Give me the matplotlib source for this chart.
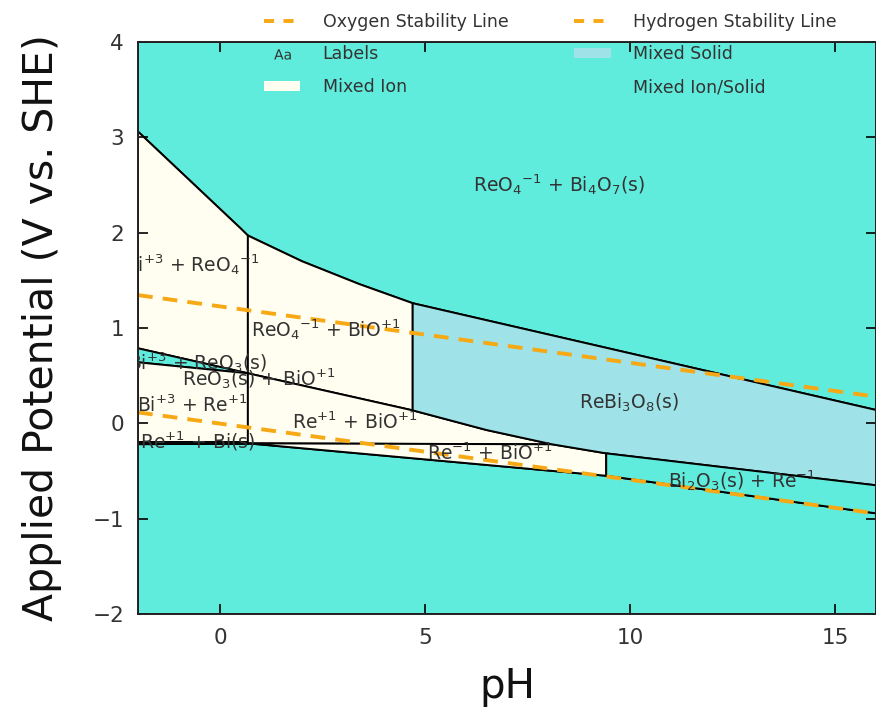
import matplotlib
matplotlib.use('Agg')
import matplotlib.pyplot as plt
from matplotlib.patches import Polygon, Patch
from matplotlib.lines import Line2D

plt.rcParams['font.family'] = ['DejaVu Sans']
plt.rcParams['mathtext.default'] = 'regular'

# colours
ION_SOLID = '#60ECDC'
ION = '#FFFEF0'
SOLID = '#9FE3E8'
WATER = '#F7A815'
INK = '#333333'

# region outlines (pH, V vs SHE)
bi4o7_ph = [-2, 0.49, 0.68, 2.0, 3.4, 4.7, 16, 16, -2]
bi4o7_v = [3.06, 2.05, 1.97, 1.70, 1.46, 1.26, 0.14, 4, 4]

bi_reo4_ph = [-2, 0.49, 0.68, 0.68, -2]
bi_reo4_v = [3.06, 2.05, 1.97, 0.525, 0.787]

bi_reo3_ph = [-2, 0.68, -2]
bi_reo3_v = [0.787, 0.525, 0.64]

bi_re_ph = [-2, 0.68, 0.68, -2]
bi_re_v = [0.64, 0.525, -0.20, -0.20]

re_bis_ph = [-2, 0.68, 0.68, -2]
re_bis_v = [-0.20, -0.20, -0.22, -0.22]

reo4_bio_ph = [0.68, 2.0, 3.4, 4.7, 4.7, 0.68]
reo4_bio_v = [1.97, 1.70, 1.46, 1.26, 0.136, 0.525]

re_bio_ph = [0.68, 4.7, 6.5, 8.1, 0.68]
re_bio_v = [0.525, 0.136, -0.07, -0.22, -0.21]

rem_bio_ph = [0.68, 8.1, 9.42, 9.42]
rem_bio_v = [-0.21, -0.22, -0.315, -0.55]

rebi3o8_ph = [4.7, 16, 16, 9.42, 8.1, 6.5, 4.7]
rebi3o8_v = [1.26, 0.14, -0.65, -0.315, -0.22, -0.07, 0.136]

bi2o3_ph = [9.42, 16, 16, 9.42]
bi2o3_v = [-0.315, -0.65, -0.944, -0.55]

bottom_ph = [-2, 0.68, 9.42, 16, 16, -2]
bottom_v = [-0.22, -0.21, -0.55, -0.944, -2, -2]

# water stability lines
water_ph = [-2, 16]
o2_v = [1.345, 0.28]
h2_v = [0.115, -0.945]

# region labels
label_text = [
    'ReO$_4$$^{-1}$ + Bi$_4$O$_7$(s)',
    'Bi$^{+3}$ + ReO$_4$$^{-1}$',
    'ReO$_4$$^{-1}$ + BiO$^{+1}$',
    'Bi$^{+3}$ + ReO$_3$(s)',
    'ReO$_3$(s) + BiO$^{+1}$',
    'Bi$^{+3}$ + Re$^{+1}$',
    'Re$^{+1}$ + BiO$^{+1}$',
    'Re$^{+1}$ + Bi(s)',
    'Re$^{-1}$ + BiO$^{+1}$',
    'ReBi$_3$O$_8$(s)',
    'Bi$_2$O$_3$(s) + Re$^{-1}$',
]
label_ph = [8.27, -0.68, 2.58, -0.56, 0.95, -0.68, 3.28, -0.54, 6.57, 9.98, 12.72]
label_v = [2.50, 1.66, 0.98, 0.64, 0.47, 0.19, 0.01, -0.19, -0.31, 0.22, -0.60]

regions = [
    (bi4o7_ph, bi4o7_v, ION_SOLID),
    (bottom_ph, bottom_v, ION_SOLID),
    (bi_reo4_ph, bi_reo4_v, ION),
    (bi_reo3_ph, bi_reo3_v, ION_SOLID),
    (bi_re_ph, bi_re_v, ION),
    (re_bis_ph, re_bis_v, ION_SOLID),
    (reo4_bio_ph, reo4_bio_v, ION),
    (re_bio_ph, re_bio_v, ION),
    (rem_bio_ph, rem_bio_v, ION),
    (rebi3o8_ph, rebi3o8_v, SOLID),
    (bi2o3_ph, bi2o3_v, ION_SOLID),
]

fig = plt.figure(figsize=(8.76, 7.15), dpi=100)
ax = fig.add_axes([138 / 876, 1 - 614 / 715, 738 / 876, 572 / 715])
ax.set_facecolor(ION_SOLID)

for ph, v, col in regions:
    ax.add_patch(Polygon(list(zip(ph, v)), closed=True, facecolor=col,
                         edgecolor='black', linewidth=1.4, zorder=1))

ax.plot(water_ph, o2_v, color=WATER, lw=2.8, dashes=(3.8, 2.6), zorder=2)
ax.plot(water_ph, h2_v, color=WATER, lw=2.8, dashes=(3.8, 2.6), zorder=2)

for t, x, y in zip(label_text, label_ph, label_v):
    ax.text(x, y, t, ha='center', va='center', fontsize=13.5, color=INK,
            clip_on=True, zorder=3)

ax.set_xlim(-2, 16)
ax.set_ylim(-2, 4)
ax.set_xticks([0, 5, 10, 15])
ax.set_yticks([-2, -1, 0, 1, 2, 3, 4])
ax.set_yticklabels(['\u22122', '\u22121', '0', '1', '2', '3', '4'])
ax.tick_params(direction='in', length=7, width=1.2, top=True, right=True,
               labelsize=15.5, labelcolor=INK, pad=10)
for s in ax.spines.values():
    s.set_linewidth(1.4)
    s.set_color('#222222')

ax.set_xlabel('pH', fontsize=29, color='#111111', labelpad=14)
ax.set_ylabel('Applied Potential (V vs. SHE)', fontsize=29.5, color='#111111',
              labelpad=22)

handles = [
    Line2D([], [], color=WATER, lw=2.8, dashes=(2.6, 2.4)),
    Line2D([], [], ls='none', marker='$Aa$', markersize=12,
           markeredgewidth=0, color=INK),
    Patch(facecolor=ION, edgecolor='none'),
    Line2D([], [], color=WATER, lw=2.8, dashes=(2.6, 2.4)),
    Patch(facecolor=SOLID, edgecolor='none'),
    Patch(facecolor=ION_SOLID, edgecolor='none'),
]
names = ['Oxygen Stability Line', 'Labels', 'Mixed Ion',
         'Hydrogen Stability Line', 'Mixed Solid', 'Mixed Ion/Solid']
fig.legend(handles, names, ncol=2, loc='upper left',
           bbox_to_anchor=(248 / 876, 1 + 3 / 715), frameon=False,
           fontsize=12.5, handlelength=2.1, handleheight=0.55,
           handletextpad=1.3, labelspacing=0.85, columnspacing=3.8,
           labelcolor=INK)

fig.savefig('out.png', dpi=100)
